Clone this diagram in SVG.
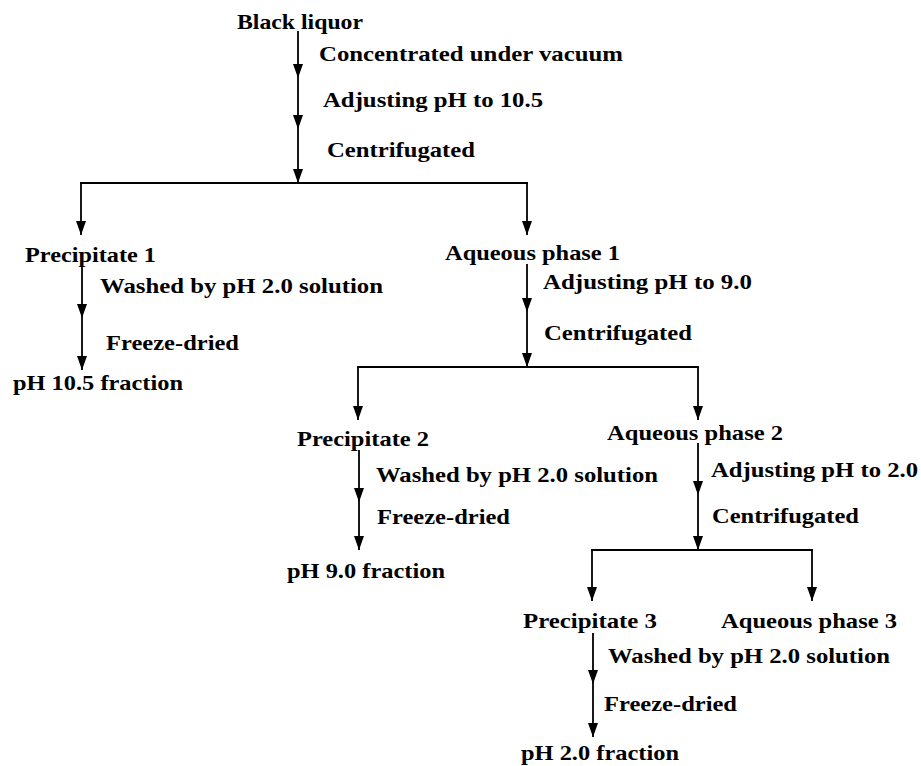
<svg xmlns="http://www.w3.org/2000/svg" width="921" height="766" viewBox="0 0 921 766">
<style>
  text { font-family: "Liberation Serif", "Times New Roman", serif; font-weight: bold; font-size: 22px; fill: #000; }
  .c line { stroke: #000; stroke-width: 1.8; fill: none; }
  .c .a { marker-end: url(#arr); }
</style>
<defs>
  <marker id="arr" viewBox="0 -5.5 14 11" refX="14" refY="0" markerWidth="14" markerHeight="11" markerUnits="userSpaceOnUse" orient="auto">
    <path d="M0,-5 L14,0 L0,5 z" fill="#000"/>
  </marker>
</defs>
<rect width="921" height="766" fill="#fff"/>

<g id="connectors" class="c">
  <!-- main column -->
  <line class="a" x1="298" y1="31" x2="298" y2="78"/>
  <line class="a" x1="298" y1="78" x2="298" y2="129"/>
  <line class="a" x1="298" y1="129" x2="298" y2="183"/>
  <line x1="80" y1="183" x2="528" y2="183"/>
  <line class="a" x1="81" y1="183" x2="81" y2="235"/>
  <line class="a" x1="527" y1="183" x2="527" y2="235"/>
  <!-- precipitate 1 column -->
  <line class="a" x1="82" y1="266" x2="82" y2="318"/>
  <line class="a" x1="82" y1="318" x2="82" y2="370"/>
  <!-- aqueous 1 column -->
  <line class="a" x1="527" y1="264" x2="527" y2="312"/>
  <line class="a" x1="527" y1="312" x2="527" y2="367"/>
  <line x1="357" y1="367" x2="699" y2="367"/>
  <line class="a" x1="358" y1="367" x2="358" y2="420"/>
  <line class="a" x1="698" y1="367" x2="698" y2="420"/>
  <!-- precipitate 2 column -->
  <line class="a" x1="359" y1="450" x2="359" y2="502"/>
  <line class="a" x1="359" y1="502" x2="359" y2="550"/>
  <!-- aqueous 2 column -->
  <line class="a" x1="698" y1="443" x2="698" y2="495"/>
  <line class="a" x1="698" y1="495" x2="698" y2="550"/>
  <line x1="591" y1="550" x2="813" y2="550"/>
  <line class="a" x1="592" y1="550" x2="592" y2="601"/>
  <line class="a" x1="812" y1="550" x2="812" y2="601"/>
  <!-- precipitate 3 column -->
  <line class="a" x1="593" y1="633" x2="593" y2="684"/>
  <line class="a" x1="593" y1="684" x2="593" y2="737"/>
</g>

<g id="n-black-liquor"><text x="237" y="29" textLength="126" lengthAdjust="spacingAndGlyphs">Black liquor</text></g>
<g id="s-concentrated"><text x="319" y="61" textLength="304" lengthAdjust="spacingAndGlyphs">Concentrated under vacuum</text></g>
<g id="s-adjust-105"><text x="323" y="107" textLength="220" lengthAdjust="spacingAndGlyphs">Adjusting pH to 10.5</text></g>
<g id="s-centrifugated-1"><text x="327" y="157" textLength="148" lengthAdjust="spacingAndGlyphs">Centrifugated</text></g>

<g id="n-precipitate-1"><text x="25" y="262" textLength="131" lengthAdjust="spacingAndGlyphs">Precipitate 1</text></g>
<g id="n-aqueous-1"><text x="445" y="260" textLength="175" lengthAdjust="spacingAndGlyphs">Aqueous phase 1</text></g>
<g id="s-washed-1"><text x="100" y="293" textLength="283" lengthAdjust="spacingAndGlyphs">Washed by pH 2.0 solution</text></g>
<g id="s-freeze-1"><text x="106" y="350" textLength="133" lengthAdjust="spacingAndGlyphs">Freeze-dried</text></g>
<g id="n-ph105"><text x="13" y="390" textLength="170" lengthAdjust="spacingAndGlyphs">pH 10.5 fraction</text></g>
<g id="s-adjust-90"><text x="543" y="289" textLength="209" lengthAdjust="spacingAndGlyphs">Adjusting pH to 9.0</text></g>
<g id="s-centrifugated-2"><text x="544" y="340" textLength="148" lengthAdjust="spacingAndGlyphs">Centrifugated</text></g>

<g id="n-precipitate-2"><text x="297" y="446" textLength="132" lengthAdjust="spacingAndGlyphs">Precipitate 2</text></g>
<g id="n-aqueous-2"><text x="607" y="440" textLength="176" lengthAdjust="spacingAndGlyphs">Aqueous phase 2</text></g>
<g id="s-washed-2"><text x="376" y="482" textLength="282" lengthAdjust="spacingAndGlyphs">Washed by pH 2.0 solution</text></g>
<g id="s-freeze-2"><text x="377" y="524" textLength="133" lengthAdjust="spacingAndGlyphs">Freeze-dried</text></g>
<g id="n-ph90"><text x="287" y="578" textLength="158" lengthAdjust="spacingAndGlyphs">pH 9.0 fraction</text></g>
<g id="s-adjust-20"><text x="711" y="477" textLength="207" lengthAdjust="spacingAndGlyphs">Adjusting pH to 2.0</text></g>
<g id="s-centrifugated-3"><text x="712" y="523" textLength="147" lengthAdjust="spacingAndGlyphs">Centrifugated</text></g>

<g id="n-precipitate-3"><text x="523" y="628" textLength="134" lengthAdjust="spacingAndGlyphs">Precipitate 3</text></g>
<g id="n-aqueous-3"><text x="721" y="628" textLength="176" lengthAdjust="spacingAndGlyphs">Aqueous phase 3</text></g>
<g id="s-washed-3"><text x="608" y="663" textLength="282" lengthAdjust="spacingAndGlyphs">Washed by pH 2.0 solution</text></g>
<g id="s-freeze-3"><text x="604" y="711" textLength="133" lengthAdjust="spacingAndGlyphs">Freeze-dried</text></g>
<g id="n-ph20"><text x="521" y="760" textLength="158" lengthAdjust="spacingAndGlyphs">pH 2.0 fraction</text></g>
</svg>
